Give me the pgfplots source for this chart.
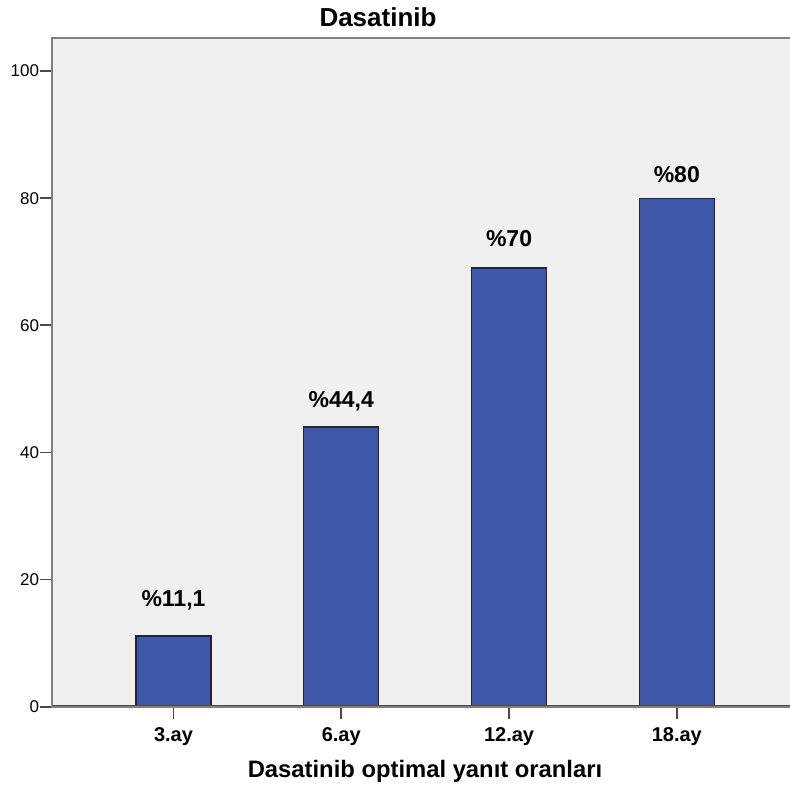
\documentclass[border=0pt]{standalone}
\usepackage{fontspec}
\setmainfont{Liberation Sans}
\usepackage{pgfplots}
\pgfplotsset{compat=1.18}
\definecolor{barblue}{HTML}{3F57A8}
\definecolor{bggray}{HTML}{F0F0F0}
\definecolor{axdark}{HTML}{4A4A4A}
\definecolor{axlight}{HTML}{808080}
\begin{document}
\begin{tikzpicture}
\useasboundingbox (-51.7bp,-85.3bp) rectangle (738.3bp,706.7bp);
\clip (-51.7bp,-85.3bp) rectangle (738.3bp,706.7bp);
\begin{axis}[
  at={(0,0)}, anchor=south west,
  scale only axis, width=746.9bp, height=668.7bp,
  xmin=-0.726, xmax=3.726, ymin=0, ymax=105.2,
  axis background/.style={fill=bggray},
  axis on top,
  axis line style={draw=axlight, line width=2.2bp},
  tick pos=left, tick align=outside,
  major tick length=12bp,
  tick style={line width=1.8bp, draw=axdark},
  /pgf/number format/assume math mode=true,
  xtick={0,1,2,3},
  xticklabels={3.ay,6.ay,12.ay,18.ay},
  ytick={0,20,40,60,80,100},
  xticklabel style={font=\fontsize{20bp}{24bp}\selectfont\bfseries, anchor=base, inner sep=0pt, yshift=-23bp},
  yticklabel style={font=\fontsize{17bp}{20bp}\selectfont, anchor=east, inner sep=0pt, xshift=-0.4bp},
  title={Dasatinib},
  title style={at={(axis description cs:0.4369,1)}, anchor=base, yshift=6bp, inner sep=0pt, font=\fontsize{26bp}{30bp}\selectfont\bfseries},
  xlabel={Dasatinib optimal yanıt oranları},
  xlabel style={at={(axis description cs:0.4998,0)}, anchor=base, yshift=-70.3bp, inner sep=0pt, font=\fontsize{23.8bp}{28bp}\selectfont\bfseries},
]
\addplot[ybar, bar width=75bp, fill=barblue, draw=black!85, line width=1.3bp]
  coordinates {(0,11.1) (1,44.0) (2,69.0) (3,80.0)};
\draw[axdark, line width=2.6bp] (rel axis cs:0,1) -- (rel axis cs:0,0) -- (rel axis cs:1,0);
\node[font=\fontsize{23bp}{28bp}\selectfont\bfseries, anchor=base, inner sep=0pt] at (axis cs:0,15.7) {\%11,1};
\node[font=\fontsize{23bp}{28bp}\selectfont\bfseries, anchor=base, inner sep=0pt] at (axis cs:1,47.0) {\%44,4};
\node[font=\fontsize{23bp}{28bp}\selectfont\bfseries, anchor=base, inner sep=0pt] at (axis cs:2,72.4) {\%70};
\node[font=\fontsize{23bp}{28bp}\selectfont\bfseries, anchor=base, inner sep=0pt] at (axis cs:3,82.4) {\%80};
\end{axis}
\end{tikzpicture}
\end{document}
